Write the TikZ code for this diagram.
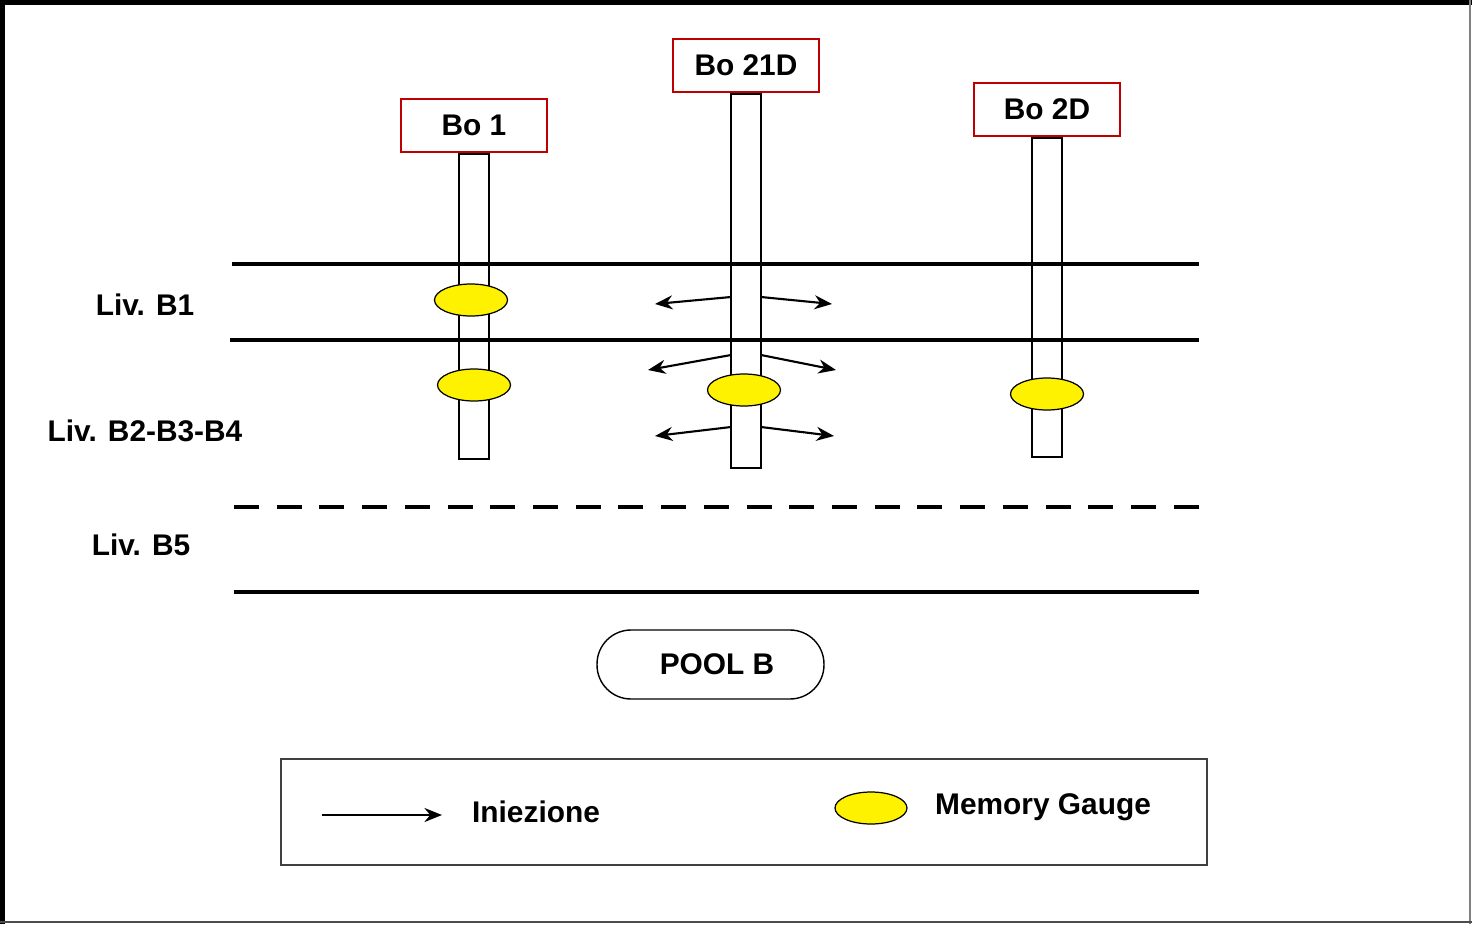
\documentclass[tikz,border=0pt]{standalone}
\usepackage{fontspec}
\setmainfont{Liberation Sans}
\usetikzlibrary{arrows.meta,positioning,shapes.geometric}

\tikzset{
  wellbox/.style={draw=red!75!black, line width=1.1pt, fill=white, minimum width=2.92cm,
    minimum height=1.06cm, inner sep=0pt, font=\fontsize{17}{20}\selectfont\bfseries},
  tube/.style={draw, line width=1.1pt, minimum width=0.6cm, inner sep=0pt, anchor=north},
  gauge/.style={ellipse, draw, line width=0.7pt, fill=yellow, minimum width=1.46cm,
    minimum height=0.64cm, inner sep=0pt},
  level/.style={line width=2pt},
  inj/.style={line width=1.2pt, -{Stealth[length=10pt,width=8pt]}},
  lbl/.style={font=\fontsize{17}{20}\selectfont\bfseries, inner sep=0pt}
}

\begin{document}
\begin{tikzpicture}[x=0.02cm, y=-0.02cm]
  \useasboundingbox (0,0) rectangle (1472,924);
  % frame
  \fill[white] (0,0) rectangle (1472,924);
  \fill[black] (0,0) rectangle (5,924);
  \fill[black] (0,0) rectangle (1472,5);
  \fill[gray] (1468.5,0) rectangle (1470.5,924);
  \fill[black!70] (0,920.5) rectangle (1472,922.5);

  % levels
  \draw[level] (232,264) -- (1199,264);
  \draw[level] (230,340) -- (1199,340);
  \draw[level, dash pattern=on 0.5cm off 0.3545cm] (234,507) -- (1199,507);
  \draw[level] (234,592) -- (1199,592);
  \node[lbl] (l1) at (145,305) {Liv. B1};
  \node[lbl] (l2) at (145,431) {Liv. B2-B3-B4};
  \node[lbl] (l5) at (141,545) {Liv. B5};

  % wells
  \node[wellbox] (b1) at (474,125.5) {Bo 1};
  \node[wellbox] (b21) at (746,65.5) {Bo 21D};
  \node[wellbox] (b2) at (1047,109.5) {Bo 2D};
  \node[tube, minimum height=6.1cm] (t1) at (b1.south) {};
  \node[tube, minimum height=7.48cm] (t21) at (b21.south) {};
  \node[tube, minimum height=6.38cm] (t2) at (b2.south) {};

  % gauges
  \node[gauge] (g1a) at (471,300) {};
  \node[gauge] (g1b) at (474,385) {};
  \node[gauge] (g21) at (744,390) {};
  \node[gauge] (g2) at (1047,394) {};

  % injection from Bo 21D
  \foreach \ys/\ye/\xl/\xr/\n in {297/304/655/832/a, 355/370/648/836/b, 427/436/655/834/c} {
    \coordinate (sl\n) at (731,\ys);
    \coordinate (sr\n) at (761,\ys);
    \coordinate (el\n) at (\xl,\ye);
    \coordinate (er\n) at (\xr,\ye);
    \draw[inj] (sl\n) -- (el\n);
    \draw[inj] (sr\n) -- (er\n);
  }

  % pool
  \node[draw, line width=0.8pt, rounded corners=0.68cm, minimum width=4.54cm,
    minimum height=1.38cm] (pool) at (710.5,664.5) {};
  \node[lbl] (poolt) at (717,664) {POOL B};

  % legend
  \node[draw=black!75, line width=1.1pt, minimum width=18.52cm, minimum height=2.12cm]
    (leg) at (744,812) {};
  \coordinate (ls) at (322,815);
  \coordinate (le) at (442,815);
  \draw[inj] (ls) -- (le);
  \node[lbl] (linj) at (536,812) {Iniezione};
  \node[gauge, minimum width=1.44cm] (lg) at (871,808) {};
  \node[lbl] (lmg) at (1043,807) {Memory Gauge};
\end{tikzpicture}
\end{document}
